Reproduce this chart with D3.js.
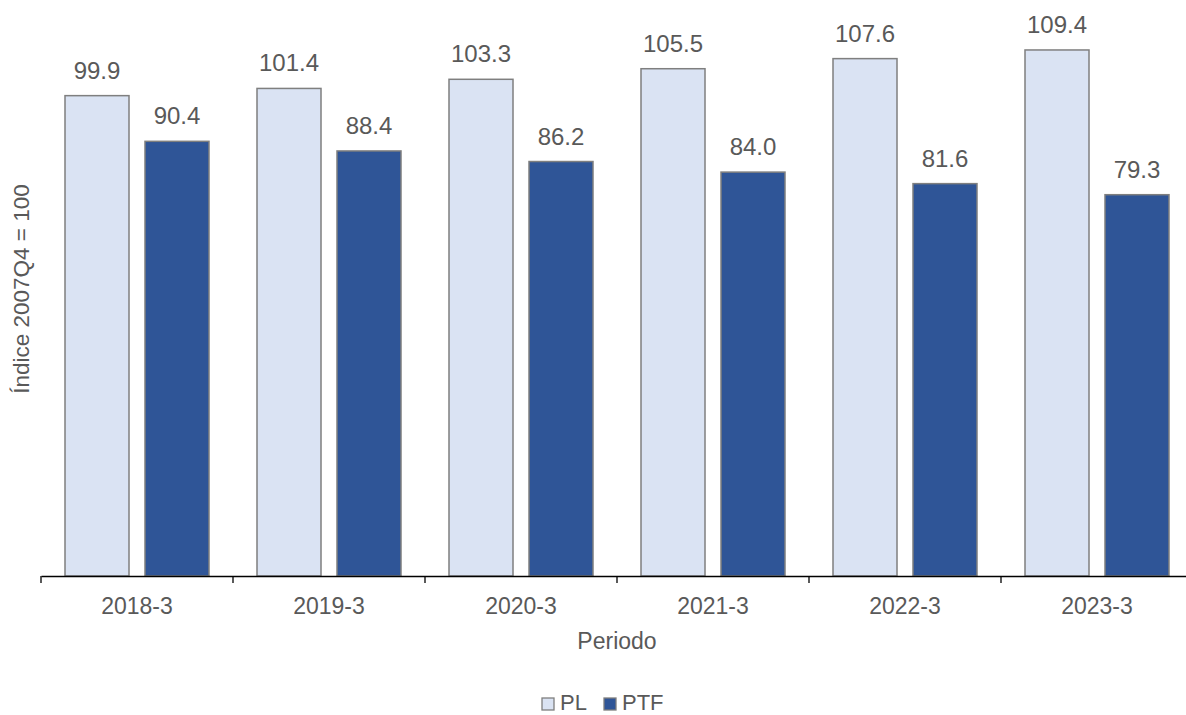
<!DOCTYPE html>
<html>
<head>
<meta charset="utf-8">
<script src="https://cdn.jsdelivr.net/npm/d3@7"></script>
<style>
  html, body { margin: 0; padding: 0; background: #fff; }
  svg { display: block; font-family: "Liberation Sans", Arial, sans-serif; }
</style>
</head>
<body>
<svg id="chart" width="1186" height="715"></svg>
<script>
const categories = ["2018-3", "2019-3", "2020-3", "2021-3", "2022-3", "2023-3"];
const seriesNames = ["PL", "PTF"];
const plValues = [99.9, 101.4, 103.3, 105.5, 107.6, 109.4];
const ptfValues = [90.4, 88.4, 86.2, 84.0, 81.6, 79.3];
const yAxisTitle = "Índice 2007Q4 = 100";
const xAxisTitle = "Periodo";

const colors = { PL: "#DAE3F3", PTF: "#2F5597" };
const textColor = "#595959";

const svg = d3.select("#chart");

const x = d3.scaleBand().domain(categories).range([41, 1193]).paddingInner(0).paddingOuter(0);
const xs = d3.scaleBand().domain(seriesNames).range([0, x.bandwidth()]).paddingInner(0.2).paddingOuter(0.3);
const y = d3.scaleLinear().domain([0, 120]).range([576, -1]);

const data = categories.map((c, i) => ({ cat: c, PL: plValues[i], PTF: ptfValues[i] }));

const groups = svg.append("g").selectAll("g").data(data).join("g")
  .attr("transform", d => `translate(${x(d.cat)},0)`);

groups.selectAll("rect").data(d => seriesNames.map(s => ({ s, v: d[s] }))).join("rect")
  .attr("x", d => xs(d.s))
  .attr("width", xs.bandwidth())
  .attr("y", d => y(d.v))
  .attr("height", d => y(0) - y(d.v))
  .attr("fill", d => colors[d.s])
  .attr("stroke", "#7F7F7F")
  .attr("stroke-width", 1.5);

groups.selectAll("text").data(d => seriesNames.map(s => ({ s, v: d[s] }))).join("text")
  .attr("x", d => xs(d.s) + xs.bandwidth() / 2)
  .attr("y", d => y(d.v) - 17)
  .attr("text-anchor", "middle")
  .attr("fill", textColor)
  .style("font-size", "24px")
  .text(d => d3.format(".1f")(d.v));

// x axis
const xAxis = d3.axisBottom(x).tickSize(0).tickPadding(0);
const axisG = svg.append("g").attr("transform", `translate(0,${y(0)})`).call(xAxis);
axisG.select(".domain").attr("stroke", "#000").attr("stroke-width", 1.3);
axisG.selectAll(".tick text").remove();
axisG.selectAll(".tick line").remove();

const boundaries = categories.map(c => x(c)).concat([x(categories[categories.length - 1]) + x.bandwidth()]);
axisG.selectAll("line.boundary").data(boundaries).join("line")
  .attr("class", "boundary")
  .attr("x1", d => d).attr("x2", d => d)
  .attr("y1", 0).attr("y2", 7)
  .attr("stroke", "#000").attr("stroke-width", 1.3);

axisG.selectAll("text.cat").data(categories).join("text")
  .attr("class", "cat")
  .attr("x", d => x(d) + x.bandwidth() / 2)
  .attr("y", 37.5)
  .attr("text-anchor", "middle")
  .attr("fill", textColor)
  .style("font-size", "23px")
  .text(d => d);

svg.append("text")
  .attr("x", 617).attr("y", 648.5)
  .attr("text-anchor", "middle")
  .attr("fill", textColor)
  .style("font-size", "23px")
  .text(xAxisTitle);

svg.append("text")
  .attr("transform", "translate(29,289) rotate(-90)")
  .attr("text-anchor", "middle")
  .attr("fill", textColor)
  .style("font-size", "22.5px")
  .text(yAxisTitle);

// legend
const legendItems = [
  { s: "PL", x: 542 },
  { s: "PTF", x: 604 }
];
const lg = svg.append("g").selectAll("g").data(legendItems).join("g")
  .attr("transform", d => `translate(${d.x},698)`);
lg.append("rect")
  .attr("width", 12).attr("height", 12)
  .attr("fill", d => colors[d.s])
  .attr("stroke", "#7F7F7F").attr("stroke-width", 1.3);
lg.append("text")
  .attr("x", 18).attr("y", 12)
  .attr("fill", textColor)
  .style("font-size", "22px")
  .text(d => d.s);
</script>
</body>
</html>
